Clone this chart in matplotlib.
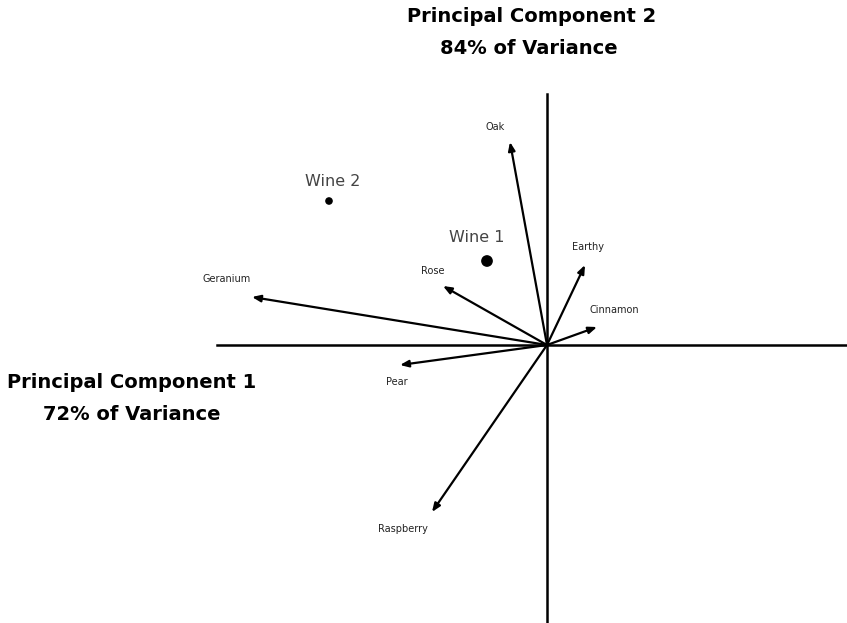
import matplotlib
matplotlib.use("Agg")
import matplotlib.pyplot as plt

# attribute loadings (scores on PC1, PC2) in plot units
attributes = ["Oak", "Earthy", "Cinnamon", "Rose", "Geranium", "Pear", "Raspberry"]
pc1_load = [-37, 38, 50, -104, -295, -147, -115]
pc2_load = [203, 80, 18, 59, 48, -20, -167]

wines = ["Wine 1", "Wine 2"]
pc1_wine = [-60, -218]
pc2_wine = [84, 144]
wine_size = [55, 20]

# where each attribute label sits relative to its arrow tip
label_off = {
    "Oak": (-15, 15), "Earthy": (3, 18), "Cinnamon": (17, 17), "Rose": (-10, 15),
    "Geranium": (-25, 18), "Pear": (-3, -17), "Raspberry": (-29, -17),
}

plt.rcParams["font.family"] = ["DejaVu Sans"]

fig = plt.figure(figsize=(8.47, 6.23), dpi=100)
ax = fig.add_axes([0, 0, 1, 1])
ax.set_xlim(-547, 300)
ax.set_ylim(-278, 345)
ax.axis("off")

# axes through the origin
ax.plot([-330, 300], [0, 0], color="black", lw=1.8)
ax.plot([0, 0], [-278, 251], color="black", lw=1.8)

for name, x, y in zip(attributes, pc1_load, pc2_load):
    ax.annotate("", xy=(x, y), xytext=(0, 0),
                arrowprops=dict(arrowstyle="-|>,head_length=0.5,head_width=0.2",
                                color="black", lw=1.6, shrinkA=0, shrinkB=0))
    dx, dy = label_off[name]
    ax.text(x + dx, y + dy, name, fontsize=7, ha="center", va="center",
            color="#222222")

ax.scatter(pc1_wine, pc2_wine, s=wine_size, color="black", zorder=3)
ax.text(-70, 108, "Wine 1", fontsize=11.5, ha="center", va="center", color="#444444")
ax.text(-214, 163, "Wine 2", fontsize=11.5, ha="center", va="center", color="#444444")

title_kw = dict(fontsize=14, fontweight="bold", ha="center", va="center")
ax.text(-15, 328, "Principal Component 2", **title_kw)
ax.text(-18, 297, "84% of Variance", **title_kw)
ax.text(-415, -38, "Principal Component 1", **title_kw)
ax.text(-415, -69, "72% of Variance", **title_kw)

fig.savefig("out.png", dpi=100, facecolor="white")
